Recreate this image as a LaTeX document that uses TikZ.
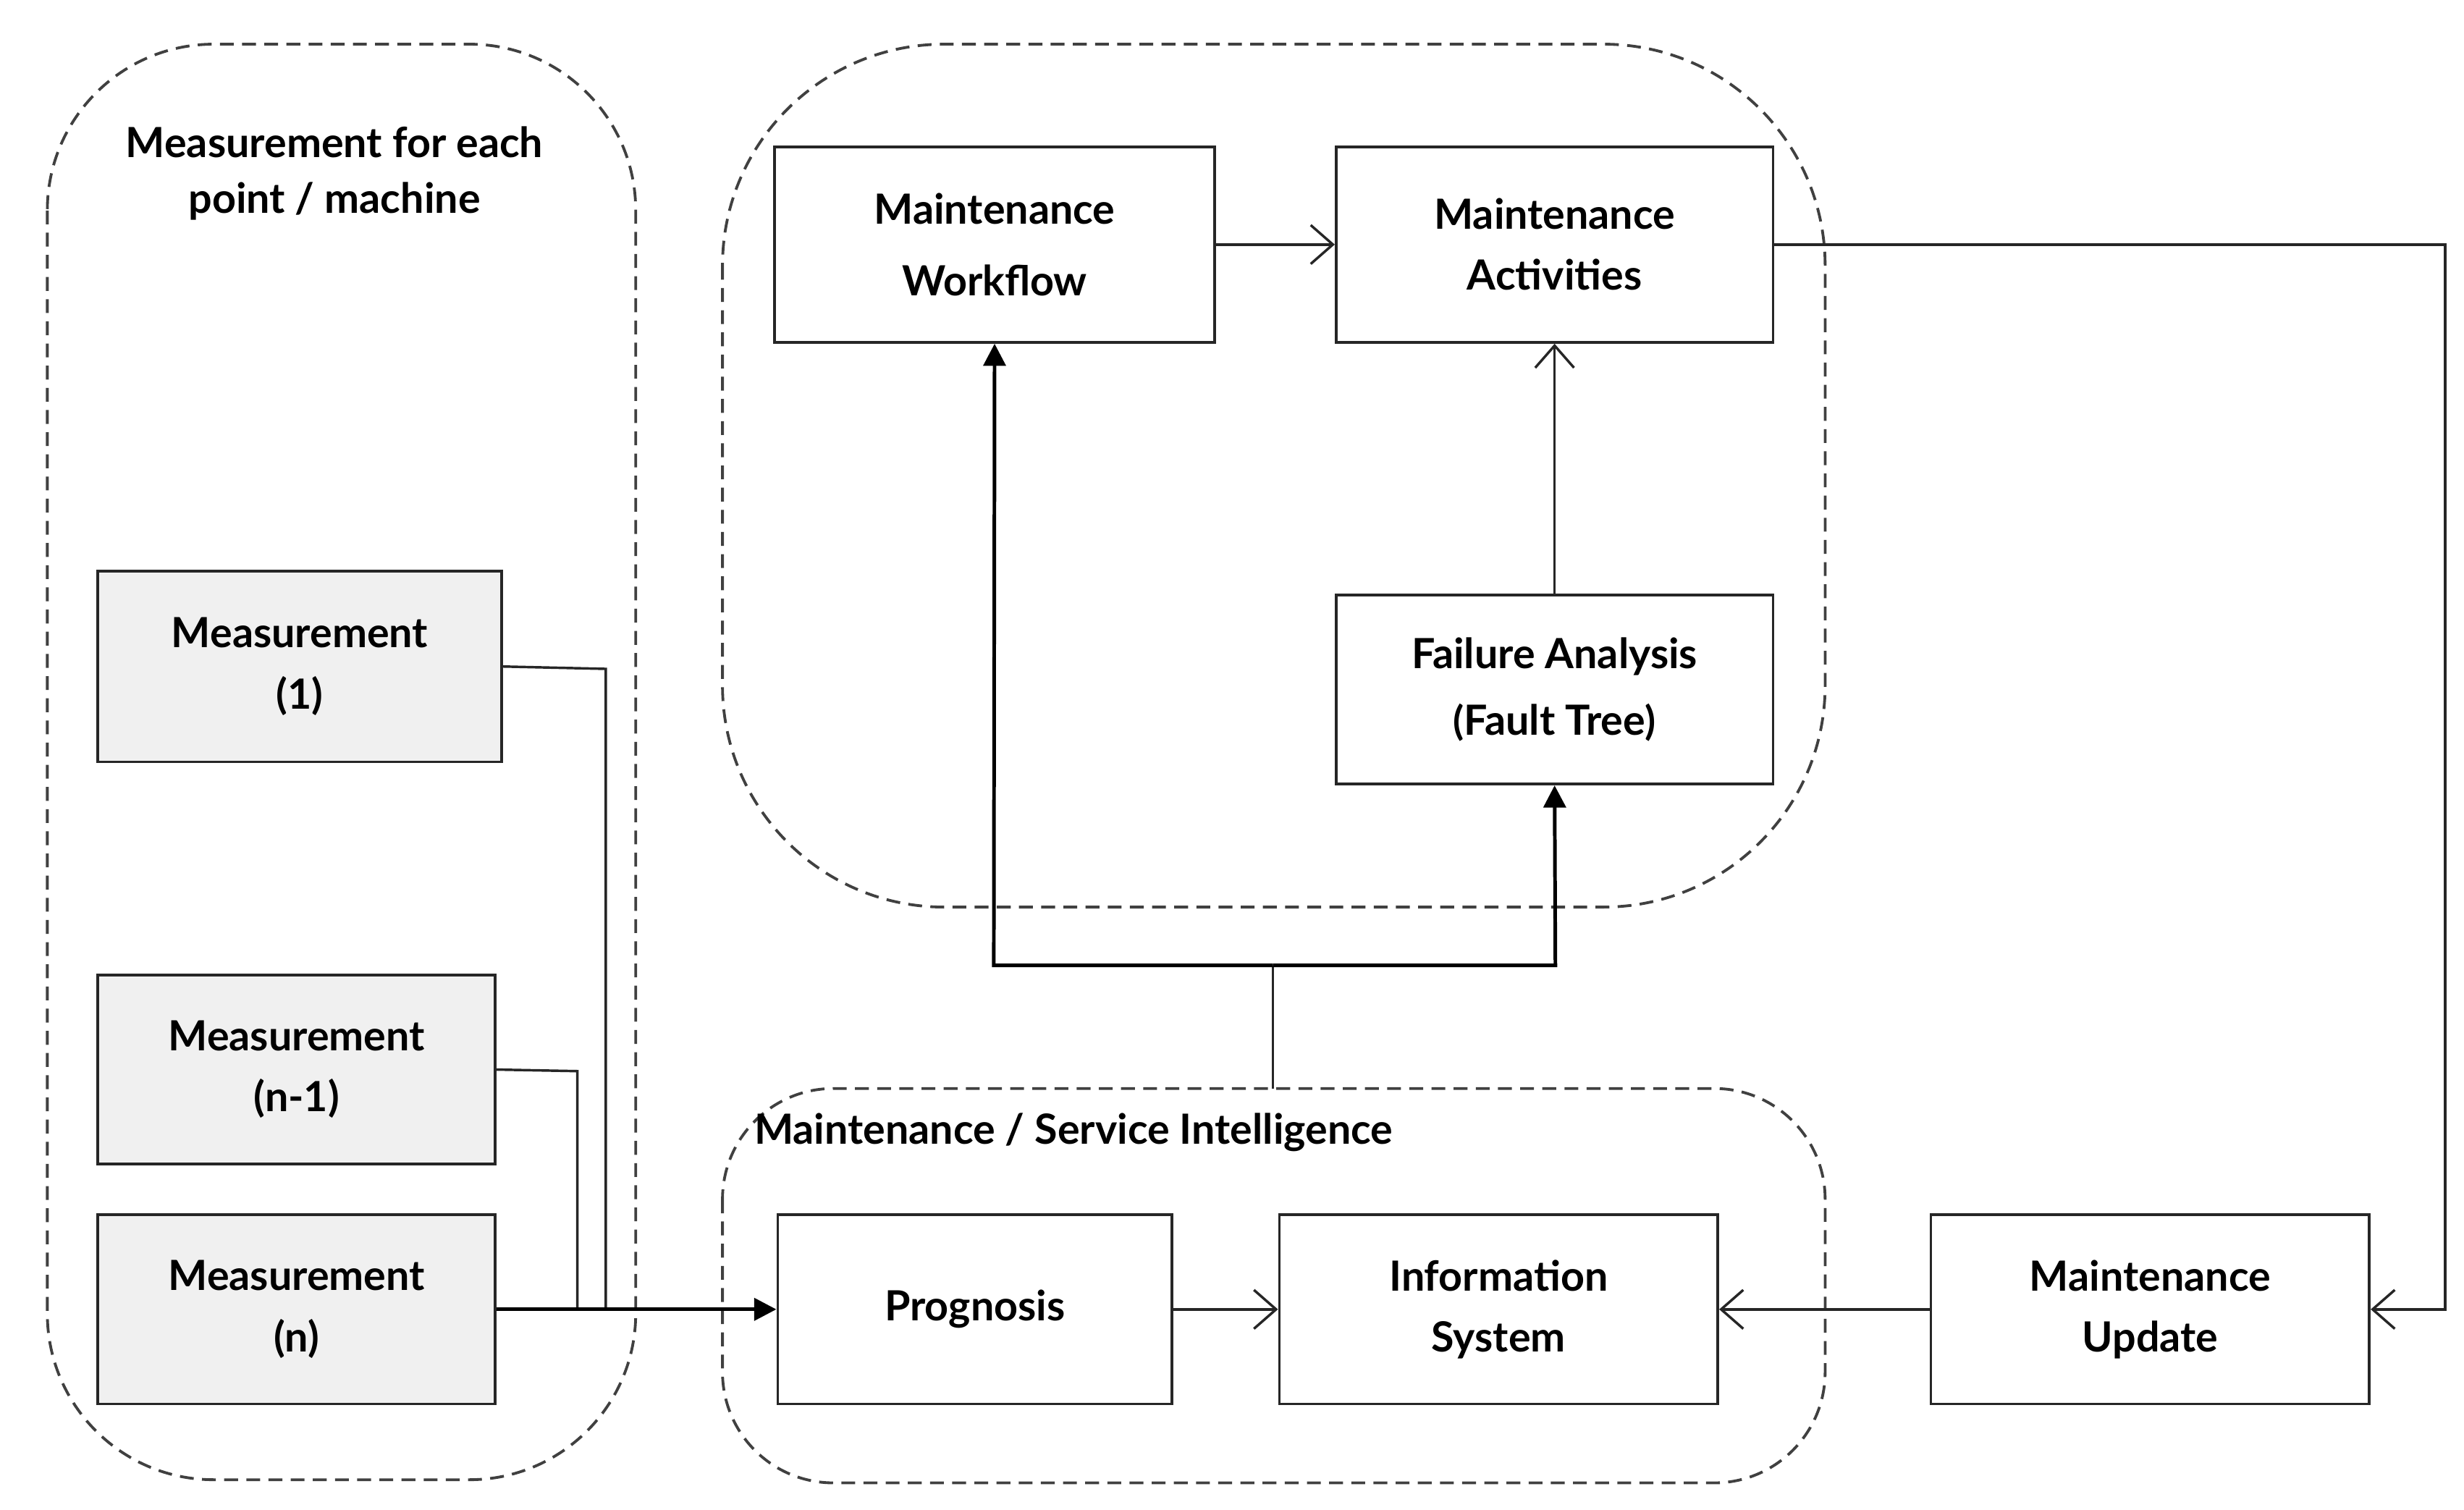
\documentclass[tikz,border=0pt]{standalone}
\usepackage{fontspec}
\setmainfont{Lato}
\usetikzlibrary{arrows.meta}
\begin{document}
\begin{tikzpicture}[x=0.02cm,y=-0.02cm,
  grp/.style={draw=black!75,line width=1pt,dash pattern=on 5pt off 3pt},
  box/.style={draw=black!85,line width=1pt,align=center,font=\fontsize{15}{22}\selectfont\bfseries},
  lbl/.style={align=center,font=\fontsize{15}{20}\selectfont\bfseries},
  con/.style={line width=0.9pt,draw=black!85},
  open/.style={con,-{Straight Barb[length=8pt,width=14pt]}},
  solid/.style={line width=1.3pt,-{Triangle[length=8pt,width=8pt]}}]
\useasboundingbox (0,0) rectangle (1562,957);
\draw[grp,rounded corners=60] (30,28) rectangle (403,938);
\draw[grp,rounded corners=80] (458,28) rectangle (1157,575);
\draw[grp,rounded corners=40] (458,690) rectangle (1157,940);
\node[lbl] (tl) at (212,110) {Measurement for each\\point / machine};
\node[lbl,anchor=west] (ts) at (472,718) {Maintenance / Service Intelligence};
\newcommand{\bx}[6]{\node[box,#6,minimum width=(#4-#2)*0.02cm,minimum height=(#5-#3)*0.02cm] (#1) at ({(#2+#4)/2},{(#3+#5)/2}) {};}
\node[box,minimum width=5.58cm,minimum height=2.48cm] (wf) at (630.5,155) {Maintenance\\[4pt]Workflow};
\node[box,minimum width=5.54cm,minimum height=2.48cm] (act) at (985.5,155) {Maintenance\\Activities};
\node[box,minimum width=5.54cm,minimum height=2.4cm] (fa) at (985.5,437) {Failure Analysis\\[2pt]{\Large(}Fault Tree{\Large)}};
\node[box,fill=black!6,minimum width=5.12cm,minimum height=2.42cm] (m1) at (190,422.5) {Measurement\\(1)};
\node[box,fill=black!6,minimum width=5.04cm,minimum height=2.4cm] (mn1) at (188,678) {Measurement\\(n-1)};
\node[box,fill=black!6,minimum width=5.04cm,minimum height=2.4cm] (mn) at (188,830) {Measurement\\(n)};
\node[box,minimum width=5cm,minimum height=2.4cm] (pr) at (618,830) {Prognosis};
\node[box,minimum width=5.56cm,minimum height=2.4cm] (is) at (950,830) {Information\\System};
\node[box,minimum width=5.56cm,minimum height=2.4cm] (up) at (1363,830) {Maintenance\\Update};
\coordinate (sp) at (807,690);
\draw[open] (wf) -- (act);
\draw[open] (fa) -- (act);
\draw[open] (act.east) -- (1550,155) -- (1550,830) -- (up.east);
\draw[open] (up) -- (is);
\draw[open] (pr) -- (is);
\draw[con] (m1.east) -- (384,424) -- (384,830);
\draw[con] (mn1.east) -- (366,679) -- (366,830);
\draw[solid] (mn.east) -- (pr.west);
\draw[con] (sp) -- (807,612);
\draw[solid] (807,612) -- (630,612) -- (wf.south);
\draw[solid] (807,612) -- (986,612) -- (fa.south);
\end{tikzpicture}
\end{document}
